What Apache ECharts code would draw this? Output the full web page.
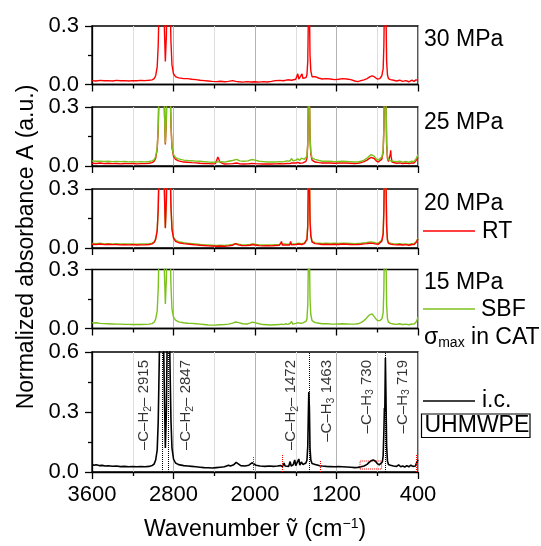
<!DOCTYPE html>
<html><head><meta charset="utf-8">
<script src="https://cdn.jsdelivr.net/npm/echarts@6/dist/echarts.min.js"></script>
<style>html,body{margin:0;padding:0;background:#fff}#c{width:541px;height:546px}</style>
</head><body><div id="c"></div>
<script>
const FONT = '"Liberation Sans", Arial, Helvetica, sans-serif';

// ---------- data ----------
const panelLabels = ['30 MPa', '25 MPa', '20 MPa', '15 MPa'];
const xTickLabels = [3600, 2800, 2000, 1200, 400];
const xMajorTicks = [400, 1200, 2000, 2800, 3600];
const xMinorTicks = [800, 1600, 2400, 3200];

const rt30 = [[3600,0.02],[3560,0.018],[3520,0.021],[3480,0.019],[3440,0.02],[3400,0.018],[3360,0.021],[3320,0.019],[3280,0.02],[3240,0.018],[3200,0.02],[3160,0.019],[3120,0.021],[3080,0.02],[3040,0.022],[3010,0.024],[2990,0.03],[2975,0.045],[2960,0.09],[2950,0.2],[2940,0.45],[2925,0.9],[2915,1.2],[2905,0.7],[2890,0.3],[2880,0.118],[2870,0.25],[2860,0.6],[2847,0.9],[2835,0.45],[2825,0.22],[2815,0.1],[2800,0.055],[2780,0.04],[2750,0.034],[2700,0.03],[2660,0.03],[2620,0.027],[2580,0.025],[2540,0.022],[2500,0.02],[2460,0.018],[2420,0.016],[2380,0.015],[2340,0.017],[2300,0.014],[2260,0.016],[2220,0.02],[2190,0.016],[2160,0.014],[2120,0.012],[2080,0.015],[2040,0.013],[2000,0.014],[1960,0.012],[1920,0.015],[1880,0.013],[1840,0.016],[1800,0.02],[1760,0.021],[1720,0.019],[1680,0.024],[1640,0.022],[1600,0.027],[1580,0.055],[1570,0.028],[1555,0.04],[1545,0.03],[1538,0.055],[1530,0.032],[1515,0.03],[1500,0.035],[1490,0.05],[1482,0.12],[1476,0.35],[1472,0.5],[1466,0.4],[1460,0.15],[1452,0.07],[1440,0.04],[1425,0.035],[1410,0.04],[1395,0.03],[1370,0.032],[1340,0.028],[1300,0.03],[1260,0.028],[1220,0.025],[1180,0.027],[1140,0.03],[1100,0.028],[1060,0.025],[1020,0.018],[990,0.015],[960,0.02],[930,0.024],[900,0.03],[870,0.04],[850,0.044],[830,0.04],[800,0.028],[775,0.03],[755,0.045],[742,0.08],[735,0.2],[730,0.4],[726,0.35],[720,0.6],[715,0.4],[708,0.12],[700,0.05],[690,0.03],[670,0.025],[640,0.022],[610,0.018],[580,0.022],[550,0.016],[520,0.02],[490,0.014],[460,0.022],[440,0.016],[420,0.024],[410,0.018],[400,0.022]];

const rt25 = [[3600,0.014],[3560,0.013],[3520,0.015],[3480,0.012],[3440,0.014],[3400,0.012],[3360,0.013],[3320,0.011],[3280,0.013],[3240,0.012],[3200,0.013],[3160,0.011],[3120,0.012],[3080,0.012],[3040,0.014],[3010,0.017],[2990,0.024],[2975,0.04],[2960,0.085],[2950,0.19],[2940,0.44],[2925,0.9],[2915,1.2],[2905,0.7],[2890,0.3],[2880,0.11],[2870,0.24],[2860,0.6],[2847,0.9],[2835,0.45],[2825,0.21],[2815,0.095],[2800,0.05],[2780,0.034],[2750,0.026],[2700,0.02],[2660,0.019],[2620,0.017],[2580,0.016],[2540,0.014],[2500,0.013],[2460,0.012],[2420,0.011],[2390,0.012],[2375,0.03],[2365,0.046],[2355,0.035],[2345,0.02],[2330,0.012],[2300,0.01],[2260,0.011],[2220,0.012],[2180,0.015],[2150,0.011],[2110,0.01],[2070,0.011],[2030,0.013],[2000,0.012],[1960,0.011],[1920,0.01],[1880,0.011],[1840,0.01],[1800,0.011],[1760,0.012],[1720,0.011],[1690,0.013],[1660,0.012],[1640,0.016],[1625,0.013],[1600,0.015],[1580,0.018],[1560,0.014],[1545,0.02],[1530,0.016],[1515,0.02],[1500,0.024],[1490,0.04],[1482,0.11],[1476,0.34],[1472,0.48],[1466,0.38],[1460,0.14],[1452,0.06],[1440,0.03],[1425,0.022],[1410,0.02],[1395,0.016],[1370,0.017],[1340,0.015],[1300,0.016],[1260,0.015],[1220,0.014],[1180,0.015],[1140,0.016],[1100,0.015],[1060,0.014],[1020,0.013],[990,0.014],[960,0.017],[930,0.022],[900,0.03],[880,0.038],[860,0.044],[845,0.045],[830,0.038],[810,0.026],[790,0.02],[775,0.022],[755,0.035],[742,0.07],[735,0.19],[730,0.38],[726,0.33],[720,0.58],[715,0.38],[708,0.11],[700,0.04],[690,0.022],[680,0.03],[672,0.06],[668,0.08],[664,0.05],[655,0.02],[640,0.016],[610,0.014],[580,0.016],[550,0.013],[520,0.015],[490,0.012],[460,0.016],[440,0.015],[425,0.02],[415,0.03],[405,0.04],[400,0.045]];

const sbf25 = [[3600,0.026],[3560,0.024],[3520,0.025],[3480,0.023],[3440,0.024],[3400,0.022],[3360,0.023],[3320,0.022],[3280,0.023],[3240,0.021],[3200,0.022],[3160,0.021],[3120,0.022],[3080,0.021],[3040,0.023],[3010,0.026],[2990,0.032],[2975,0.048],[2960,0.09],[2950,0.2],[2940,0.45],[2925,0.9],[2915,1.2],[2905,0.7],[2890,0.3],[2880,0.115],[2870,0.25],[2860,0.6],[2847,0.9],[2835,0.45],[2825,0.22],[2815,0.1],[2800,0.058],[2780,0.042],[2750,0.036],[2700,0.03],[2660,0.028],[2620,0.027],[2580,0.025],[2540,0.024],[2500,0.022],[2460,0.02],[2420,0.019],[2380,0.02],[2340,0.022],[2300,0.02],[2260,0.024],[2220,0.028],[2180,0.034],[2150,0.026],[2110,0.024],[2070,0.026],[2030,0.033],[2000,0.03],[1960,0.024],[1920,0.022],[1880,0.02],[1840,0.021],[1800,0.02],[1760,0.022],[1720,0.021],[1690,0.026],[1660,0.024],[1640,0.038],[1625,0.026],[1600,0.03],[1580,0.036],[1560,0.028],[1545,0.04],[1530,0.03],[1515,0.034],[1500,0.036],[1490,0.05],[1482,0.12],[1476,0.35],[1472,0.5],[1466,0.4],[1460,0.15],[1452,0.07],[1440,0.04],[1425,0.032],[1410,0.034],[1395,0.026],[1370,0.028],[1340,0.024],[1300,0.025],[1260,0.024],[1220,0.022],[1180,0.023],[1140,0.024],[1100,0.023],[1060,0.022],[1020,0.02],[990,0.021],[960,0.024],[930,0.03],[900,0.04],[880,0.05],[860,0.058],[845,0.06],[830,0.05],[810,0.036],[790,0.03],[775,0.032],[755,0.045],[742,0.08],[735,0.2],[730,0.4],[726,0.35],[720,0.6],[715,0.4],[708,0.12],[700,0.05],[690,0.032],[670,0.027],[640,0.024],[610,0.022],[580,0.024],[550,0.02],[520,0.023],[490,0.019],[460,0.024],[440,0.022],[425,0.03],[415,0.04],[405,0.05],[400,0.058]];

const rt20 = [[3600,0.019],[3560,0.018],[3520,0.02],[3480,0.017],[3440,0.019],[3400,0.017],[3360,0.018],[3320,0.016],[3280,0.017],[3240,0.016],[3200,0.017],[3160,0.015],[3120,0.016],[3080,0.016],[3040,0.018],[3010,0.021],[2990,0.028],[2975,0.044],[2960,0.088],[2950,0.2],[2940,0.45],[2925,0.9],[2915,1.2],[2905,0.7],[2890,0.3],[2880,0.1],[2870,0.24],[2860,0.6],[2847,0.9],[2835,0.45],[2825,0.21],[2815,0.095],[2800,0.05],[2780,0.034],[2750,0.027],[2700,0.022],[2660,0.02],[2620,0.018],[2580,0.016],[2540,0.014],[2500,0.013],[2460,0.011],[2420,0.01],[2380,0.009],[2340,0.01],[2300,0.009],[2260,0.011],[2220,0.014],[2190,0.022],[2178,0.028],[2165,0.016],[2130,0.013],[2090,0.012],[2050,0.014],[2020,0.018],[2000,0.015],[1960,0.012],[1920,0.011],[1880,0.012],[1840,0.011],[1800,0.013],[1760,0.014],[1740,0.033],[1732,0.015],[1700,0.016],[1660,0.015],[1650,0.034],[1642,0.016],[1600,0.018],[1570,0.02],[1540,0.018],[1515,0.022],[1500,0.026],[1490,0.042],[1482,0.11],[1476,0.34],[1472,0.48],[1466,0.38],[1460,0.14],[1452,0.06],[1440,0.03],[1425,0.024],[1410,0.022],[1395,0.019],[1370,0.02],[1340,0.018],[1300,0.019],[1260,0.018],[1220,0.019],[1180,0.018],[1140,0.02],[1100,0.019],[1060,0.018],[1020,0.017],[990,0.018],[960,0.019],[930,0.021],[900,0.022],[880,0.024],[860,0.025],[845,0.024],[830,0.022],[810,0.02],[790,0.019],[775,0.022],[755,0.035],[742,0.07],[735,0.19],[730,0.38],[726,0.33],[720,0.58],[715,0.38],[708,0.11],[700,0.04],[690,0.024],[670,0.02],[640,0.017],[610,0.016],[580,0.018],[550,0.015],[520,0.017],[490,0.014],[460,0.018],[440,0.017],[425,0.022],[415,0.03],[405,0.04],[400,0.047]];

const sbf20 = [[3600,0.023],[3560,0.022],[3520,0.024],[3480,0.021],[3440,0.022],[3400,0.021],[3360,0.022],[3320,0.02],[3280,0.021],[3240,0.02],[3200,0.021],[3160,0.019],[3120,0.02],[3080,0.02],[3040,0.022],[3010,0.025],[2990,0.032],[2975,0.048],[2960,0.09],[2950,0.2],[2940,0.45],[2925,0.9],[2915,1.2],[2905,0.7],[2890,0.3],[2880,0.105],[2870,0.24],[2860,0.6],[2847,0.9],[2835,0.45],[2825,0.22],[2815,0.1],[2800,0.055],[2780,0.04],[2750,0.032],[2700,0.027],[2660,0.024],[2620,0.022],[2580,0.02],[2540,0.018],[2500,0.016],[2460,0.015],[2420,0.014],[2380,0.013],[2340,0.014],[2300,0.013],[2260,0.015],[2220,0.018],[2190,0.022],[2178,0.024],[2165,0.02],[2130,0.017],[2090,0.016],[2050,0.018],[2020,0.021],[2000,0.019],[1960,0.016],[1920,0.015],[1880,0.016],[1840,0.015],[1800,0.017],[1760,0.018],[1740,0.022],[1732,0.019],[1700,0.02],[1660,0.019],[1650,0.024],[1642,0.02],[1600,0.022],[1570,0.024],[1540,0.022],[1515,0.026],[1500,0.03],[1490,0.046],[1482,0.12],[1476,0.35],[1472,0.5],[1466,0.4],[1460,0.15],[1452,0.065],[1440,0.035],[1425,0.028],[1410,0.026],[1395,0.024],[1370,0.025],[1340,0.023],[1300,0.024],[1260,0.023],[1220,0.024],[1180,0.023],[1140,0.025],[1100,0.024],[1060,0.023],[1020,0.022],[990,0.023],[960,0.024],[930,0.026],[900,0.028],[880,0.03],[860,0.031],[845,0.03],[830,0.028],[810,0.025],[790,0.024],[775,0.026],[755,0.04],[742,0.075],[735,0.2],[730,0.4],[726,0.35],[720,0.6],[715,0.4],[708,0.12],[700,0.045],[690,0.028],[670,0.024],[640,0.021],[610,0.02],[580,0.022],[550,0.019],[520,0.021],[490,0.018],[460,0.022],[440,0.021],[425,0.026],[415,0.034],[405,0.044],[400,0.05]];

const sbf15 = [[3600,0.03],[3580,0.028],[3560,0.029],[3520,0.026],[3480,0.025],[3440,0.024],[3400,0.023],[3360,0.022],[3320,0.022],[3280,0.021],[3240,0.021],[3200,0.02],[3160,0.021],[3120,0.02],[3080,0.021],[3040,0.022],[3010,0.025],[2990,0.032],[2975,0.048],[2960,0.09],[2950,0.2],[2940,0.45],[2925,0.9],[2915,1.2],[2905,0.7],[2890,0.3],[2880,0.125],[2870,0.25],[2860,0.6],[2847,0.9],[2835,0.45],[2825,0.22],[2815,0.1],[2800,0.058],[2780,0.042],[2750,0.034],[2700,0.029],[2660,0.027],[2620,0.026],[2580,0.024],[2540,0.022],[2500,0.02],[2460,0.018],[2420,0.017],[2380,0.018],[2362,0.025],[2345,0.019],[2300,0.02],[2260,0.022],[2220,0.027],[2190,0.033],[2175,0.036],[2160,0.03],[2120,0.024],[2080,0.023],[2050,0.027],[2025,0.032],[2000,0.03],[1960,0.024],[1920,0.02],[1880,0.019],[1840,0.018],[1800,0.019],[1760,0.02],[1740,0.022],[1720,0.02],[1700,0.024],[1680,0.021],[1660,0.024],[1640,0.036],[1630,0.022],[1600,0.026],[1580,0.03],[1560,0.027],[1545,0.034],[1530,0.028],[1515,0.032],[1500,0.036],[1490,0.05],[1482,0.12],[1476,0.35],[1472,0.5],[1466,0.4],[1460,0.15],[1452,0.07],[1440,0.04],[1425,0.032],[1410,0.03],[1395,0.026],[1370,0.027],[1340,0.024],[1300,0.025],[1260,0.023],[1220,0.022],[1180,0.023],[1140,0.024],[1100,0.023],[1060,0.022],[1020,0.022],[990,0.024],[960,0.03],[940,0.036],[920,0.045],[900,0.056],[880,0.068],[865,0.073],[850,0.074],[835,0.066],[815,0.05],[795,0.04],[775,0.04],[755,0.048],[742,0.08],[735,0.2],[730,0.4],[726,0.35],[720,0.6],[715,0.4],[708,0.12],[700,0.05],[690,0.032],[670,0.026],[640,0.023],[610,0.021],[580,0.024],[550,0.02],[520,0.022],[490,0.019],[460,0.023],[440,0.022],[425,0.028],[415,0.036],[405,0.05],[400,0.06]];

const ic = [[3600,0.038],[3580,0.034],[3560,0.036],[3530,0.032],[3500,0.033],[3470,0.03],[3440,0.031],[3400,0.029],[3360,0.03],[3320,0.027],[3280,0.028],[3240,0.026],[3200,0.027],[3160,0.026],[3120,0.027],[3080,0.026],[3040,0.028],[3010,0.032],[2990,0.04],[2975,0.06],[2960,0.11],[2950,0.25],[2940,0.55],[2925,1.1],[2915,1.5],[2905,0.9],[2890,0.4],[2880,0.12],[2870,0.3],[2860,0.75],[2847,1.1],[2835,0.55],[2825,0.26],[2815,0.12],[2800,0.065],[2780,0.045],[2750,0.037],[2700,0.032],[2660,0.03],[2620,0.028],[2580,0.026],[2540,0.024],[2500,0.022],[2460,0.021],[2420,0.02],[2380,0.022],[2340,0.024],[2300,0.026],[2260,0.034],[2240,0.03],[2210,0.036],[2185,0.048],[2170,0.04],[2140,0.032],[2100,0.03],[2060,0.034],[2030,0.046],[2010,0.04],[1990,0.034],[1950,0.03],[1900,0.028],[1860,0.03],[1820,0.028],[1780,0.03],[1750,0.032],[1730,0.028],[1715,0.045],[1705,0.03],[1690,0.034],[1670,0.028],[1655,0.052],[1645,0.03],[1625,0.036],[1610,0.06],[1600,0.032],[1585,0.04],[1570,0.065],[1560,0.034],[1545,0.05],[1530,0.038],[1515,0.045],[1500,0.045],[1490,0.06],[1482,0.13],[1476,0.3],[1472,0.4],[1466,0.32],[1460,0.12],[1452,0.06],[1440,0.042],[1425,0.036],[1410,0.038],[1395,0.034],[1370,0.032],[1340,0.03],[1300,0.028],[1260,0.027],[1220,0.026],[1180,0.027],[1140,0.026],[1100,0.025],[1060,0.024],[1020,0.022],[990,0.023],[960,0.026],[930,0.03],[900,0.038],[880,0.048],[860,0.056],[840,0.06],[820,0.055],[800,0.042],[780,0.036],[765,0.04],[750,0.05],[742,0.08],[735,0.2],[730,0.32],[726,0.3],[720,0.57],[715,0.4],[708,0.13],[700,0.055],[690,0.038],[670,0.034],[640,0.03],[610,0.028],[590,0.036],[570,0.026],[550,0.03],[530,0.025],[510,0.032],[490,0.026],[470,0.034],[450,0.028],[435,0.038],[425,0.03],[415,0.045],[408,0.055],[400,0.06]];

const annoPeaks = [2915, 2847, 1472, 1463, 730, 719];
const annoTexts = ['\u2013C\u2013H{s|2}\u2013 2915', '\u2013C\u2013H{s|2}\u2013 2847', '\u2013C\u2013H{s|2}\u2013 1472', '\u2013C\u2013H{s|3} 1463', '\u2013C\u2013H{s|3} 730', '\u2013C\u2013H{s|3} 719'];
const annoSide = [-1, 1, -1, 1, -1, 1];
const peakLines = [2915, 2847, 1472, 1463, 719];
const redMarks = [[2020, 0.075], [1732, 0.085], [1362, 0.06], [413, 0.085]];
const redBox = [[969, 0.015], [757, 0.055]];

// ---------- layout ----------
const RED = '#ff0000', GREEN = '#7cc21d', BLACK = '#000000';
const grids = [{top:26,height:58.5},{top:107,height:59},{top:189,height:59},{top:269.5,height:59},{top:352,height:120}];
const yMax = [0.3, 0.3, 0.3, 0.3, 0.6];
const PL = 92, PW = 326;

const xMain = grids.map((g, i) => ({
  gridIndex: i, type: 'value', min: 400, max: 3600, interval: 400, inverse: true, position: 'bottom',
  axisLine: {show: true, onZero: false, lineStyle: {color: '#000', width: 1.3}},
  axisTick: {show: false},
  axisLabel: {show: i === 4, fontSize: 22, color: '#000', margin: 12, fontFamily: FONT,
    formatter: v => xTickLabels.includes(v) ? String(v) : ''},
  splitLine: {show: true, lineStyle: {color: ['#b4b4b4', '#dedede'], width: 1}},
  name: i === 4 ? 'Wavenumber \u1E7D (cm{sup|\u22121})' : '',
  nameLocation: 'middle', nameGap: 45,
  nameTextStyle: {fontSize: 23, color: '#000', fontFamily: FONT, lineHeight: 26,
    rich: {sup: {fontSize: 14, lineHeight: 14, verticalAlign: 'top', fontFamily: FONT, color: '#000'}}}
}));
const tickAxis = (vals, len) => grids.map((g, i) => ({
  gridIndex: i, type: 'value', min: 400, max: 3600, inverse: true, position: 'bottom',
  axisLine: {show: false}, axisLabel: {show: false}, splitLine: {show: false},
  axisTick: {show: true, customValues: vals, length: len, lineStyle: {color: '#000', width: 1.3}}
}));

const yAxes = grids.map((g, i) => ({
  gridIndex: i, type: 'value', min: 0, max: yMax[i], interval: 0.3,
  axisLine: {show: true, lineStyle: {color: '#000', width: 1.3}},
  axisTick: {show: true, length: 7, lineStyle: {color: '#000', width: 1.3}},
  minorTick: {show: true, splitNumber: 2, length: 4, lineStyle: {color: '#000', width: 1.3}},
  splitLine: {show: false},
  axisLabel: {fontSize: 22, color: '#000', margin: 13, fontFamily: FONT, formatter: v => v.toFixed(1)}
}));

function line(data, color, gi, z, extra) {
  return Object.assign({type: 'line', data, xAxisIndex: gi, yAxisIndex: gi, symbol: 'none', showSymbol: false,
    lineStyle: {color, width: 1.4}, itemStyle: {color}, clip: true, z, silent: true}, extra || {});
}

const icExtra = {
  lineStyle: {color: BLACK, width: 1.6},
  markLine: {
    silent: true, symbol: ['none', 'none'], label: {show: false},
    data: peakLines.map(w => [{coord: [w, 0], lineStyle: {color: '#000', type: 'dotted', width: 1}}, {coord: [w, 0.6]}])
      .concat(redMarks.map(m => [{coord: [m[0], 0], lineStyle: {color: RED, type: 'dotted', width: 1}}, {coord: [m[0], m[1]]}]))
  },
  markArea: {
    silent: true, label: {show: false},
    itemStyle: {color: 'rgba(0,0,0,0)', borderColor: RED, borderWidth: 1, borderType: 'dotted'},
    data: [[{coord: redBox[0]}, {coord: redBox[1]}]]
  }
};

const annoSeries = {
  type: 'scatter', xAxisIndex: 4, yAxisIndex: 4, symbolSize: 0, silent: true, z: 10,
  data: annoPeaks.map((w, k) => [w - annoSide[k] * 172, 0.56]),
  label: {
    show: true, position: 'inside', rotate: 90, align: 'right', verticalAlign: 'middle',
    fontSize: 15, lineHeight: 18, color: '#000', fontFamily: FONT,
    formatter: p => annoTexts[p.dataIndex],
    rich: {s: {fontSize: 10.5, lineHeight: 11, verticalAlign: 'bottom', color: '#000', fontFamily: FONT}}
  }
};

const txt = (text, x, y, size, extra) => ({type: 'text', x, y, silent: true,
  style: Object.assign({text, fontSize: size, fontFamily: FONT, fill: '#000', align: 'left', verticalAlign: 'middle'}, extra || {})});
const seg = (x1, x2, y, color) => ({type: 'line', silent: true, shape: {x1, y1: y, x2, y2: y}, style: {stroke: color, lineWidth: 1.6}});

const graphic = [
  txt('Normalized absorbance A (a.u.)', 27, 247, 23, {align: 'center'}),
  txt(panelLabels[0], 424, 39.5, 23),
  txt(panelLabels[1], 424, 123, 23),
  txt(panelLabels[2], 424, 203.5, 23),
  seg(423, 475, 231, RED), txt('RT', 482, 231.5, 23),
  txt(panelLabels[3], 424, 283, 23),
  seg(423, 475, 309, GREEN), txt('SBF', 481, 309.5, 23),
  txt('\u03C3{s|max} in CAT', 424, 338, 23, {rich: {s: {fontSize: 14, lineHeight: 12, verticalAlign: 'bottom', fontFamily: FONT, fill: '#000'}}, lineHeight: 24}),
  seg(423, 475, 401, BLACK), txt('i.c.', 482, 401, 23),
  {type: 'rect', silent: true, shape: {x: 421.5, y: 414, width: 108.5, height: 23.5}, style: {fill: 'none', stroke: '#000', lineWidth: 1.2}},
  txt('UHMWPE', 424.5, 426, 23)
];
graphic[0].rotation = Math.PI / 2;

const option = {
  animation: false,
  backgroundColor: '#fff',
  textStyle: {fontFamily: FONT},
  grid: grids.map(g => ({left: PL, width: PW, top: g.top, height: g.height, show: true,
    borderColor: '#000', borderWidth: 1.3, backgroundColor: 'rgba(0,0,0,0)', outerBoundsMode: 'none', containLabel: false})),
  xAxis: xMain.concat(tickAxis(xMajorTicks, 7), tickAxis(xMinorTicks, 4)),
  yAxis: yAxes,
  series: [
    line(rt30, RED, 0, 3),
    line(rt25, RED, 1, 3), line(sbf25, GREEN, 1, 4),
    line(sbf20, GREEN, 2, 3), line(rt20, RED, 2, 4),
    line(sbf15, GREEN, 3, 3),
    line(ic, BLACK, 4, 3, icExtra),
    annoSeries
  ],
  graphic
};

const chart = echarts.init(document.getElementById('c'), null, {renderer: 'canvas'});
chart.setOption(option);
</script>
</body></html>
